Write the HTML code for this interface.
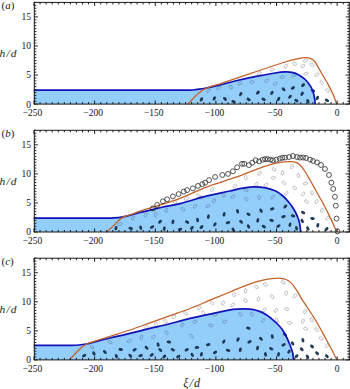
<!DOCTYPE html><html><head><meta charset="utf-8"><style>html,body{margin:0;padding:0;background:#fff;width:350px;height:389px;overflow:hidden}svg{display:block}text{font-family:"Liberation Serif",serif}</style></head><body>
<svg width="350" height="389" viewBox="0 0 350 389">
<rect width="350" height="389" fill="#fff"/>
<path d="M33.70,90.20 C84.47,90.20 135.23,90.26 186.00,90.20 C188.33,90.20 190.67,90.17 193.00,90.00 C195.14,89.84 197.27,89.52 199.40,89.20 C201.71,88.85 204.01,88.44 206.30,88.00 C208.54,87.57 210.77,87.09 213.00,86.60 C215.34,86.09 217.68,85.59 220.00,85.00 C225.01,83.72 229.97,82.21 235.00,81.00 C241.64,79.41 248.31,77.94 255.00,76.60 C261.64,75.27 268.31,74.05 275.00,73.00 C278.35,72.48 281.72,72.04 285.10,71.90 C287.40,71.81 289.75,71.81 292.00,72.30 C294.40,72.82 296.76,73.70 298.90,74.90 C301.37,76.29 303.70,78.00 305.70,80.00 C307.74,82.04 309.42,84.43 310.90,86.90 C312.01,88.76 312.77,90.83 313.40,92.90 C314.07,95.11 314.46,97.41 314.80,99.70 C315.02,101.19 315.00,102.70 315.10,104.20 L315.10,104.10 L34.00,104.10 Z" fill="#93cdf9"/>
<ellipse cx="201.4" cy="99.4" rx="2.3" ry="1.45" transform="rotate(-60 201.4 99.4)" fill="#1f3a56"/>
<ellipse cx="214.3" cy="98.4" rx="2.3" ry="1.45" transform="rotate(-60 214.3 98.4)" fill="#1f3a56"/>
<ellipse cx="225.0" cy="98.9" rx="2.3" ry="1.45" transform="rotate(45 225.0 98.9)" fill="#1f3a56"/>
<ellipse cx="233.6" cy="101.7" rx="2.3" ry="1.45" transform="rotate(20 233.6 101.7)" fill="#1f3a56"/>
<ellipse cx="240.7" cy="94.1" rx="2.3" ry="1.45" transform="rotate(-60 240.7 94.1)" fill="#1f3a56"/>
<ellipse cx="248.6" cy="99.4" rx="2.3" ry="1.45" transform="rotate(30 248.6 99.4)" fill="#1f3a56"/>
<ellipse cx="257.9" cy="92.6" rx="2.3" ry="1.45" transform="rotate(-45 257.9 92.6)" fill="#1f3a56"/>
<ellipse cx="271.9" cy="92.9" rx="2.3" ry="1.45" transform="rotate(-60 271.9 92.9)" fill="#1f3a56"/>
<ellipse cx="283.6" cy="89.3" rx="2.3" ry="1.45" transform="rotate(45 283.6 89.3)" fill="#1f3a56"/>
<ellipse cx="292.9" cy="87.9" rx="2.3" ry="1.45" transform="rotate(-30 292.9 87.9)" fill="#1f3a56"/>
<ellipse cx="263.6" cy="99.3" rx="2.3" ry="1.45" transform="rotate(30 263.6 99.3)" fill="#1f3a56"/>
<ellipse cx="278.6" cy="99.0" rx="2.3" ry="1.45" transform="rotate(-60 278.6 99.0)" fill="#1f3a56"/>
<ellipse cx="290.0" cy="96.7" rx="2.3" ry="1.45" transform="rotate(-45 290.0 96.7)" fill="#1f3a56"/>
<ellipse cx="303.1" cy="85.1" rx="2.3" ry="1.45" transform="rotate(-45 303.1 85.1)" fill="#1f3a56"/>
<ellipse cx="302.1" cy="93.7" rx="2.3" ry="1.45" transform="rotate(-60 302.1 93.7)" fill="#1f3a56"/>
<ellipse cx="296.4" cy="100.6" rx="2.3" ry="1.45" transform="rotate(30 296.4 100.6)" fill="#1f3a56"/>
<ellipse cx="307.9" cy="101.3" rx="2.3" ry="1.45" transform="rotate(60 307.9 101.3)" fill="#1f3a56"/>
<ellipse cx="312.9" cy="90.6" rx="2.3" ry="1.45" transform="rotate(20 312.9 90.6)" fill="#1f3a56"/>
<ellipse cx="317.4" cy="98.0" rx="2.3" ry="1.45" transform="rotate(-60 317.4 98.0)" fill="#1f3a56"/>
<ellipse cx="326.9" cy="100.3" rx="2.3" ry="1.45" transform="rotate(30 326.9 100.3)" fill="#1f3a56"/>
<ellipse cx="208.6" cy="90.6" rx="2.25" ry="1.3" transform="rotate(-45 208.6 90.6)" fill="none" stroke="#6a8fb3" stroke-width="0.7"/>
<ellipse cx="218.6" cy="88.0" rx="2.25" ry="1.3" transform="rotate(-30 218.6 88.0)" fill="none" stroke="#6a8fb3" stroke-width="0.7"/>
<ellipse cx="230.7" cy="87.0" rx="2.25" ry="1.3" transform="rotate(60 230.7 87.0)" fill="none" stroke="#6a8fb3" stroke-width="0.7"/>
<ellipse cx="240.0" cy="83.4" rx="2.25" ry="1.3" transform="rotate(-30 240.0 83.4)" fill="none" stroke="#6a8fb3" stroke-width="0.7"/>
<ellipse cx="251.9" cy="82.1" rx="2.25" ry="1.3" transform="rotate(-15 251.9 82.1)" fill="none" stroke="#6a8fb3" stroke-width="0.7"/>
<ellipse cx="266.7" cy="80.7" rx="2.25" ry="1.3" transform="rotate(-45 266.7 80.7)" fill="none" stroke="#6a8fb3" stroke-width="0.7"/>
<ellipse cx="275.3" cy="83.6" rx="2.25" ry="1.3" transform="rotate(-30 275.3 83.6)" fill="none" stroke="#6a8fb3" stroke-width="0.7"/>
<ellipse cx="282.4" cy="77.1" rx="2.25" ry="1.3" transform="rotate(-15 282.4 77.1)" fill="none" stroke="#6a8fb3" stroke-width="0.7"/>
<ellipse cx="293.6" cy="75.7" rx="2.25" ry="1.3" transform="rotate(-20 293.6 75.7)" fill="none" stroke="#6a8fb3" stroke-width="0.7"/>
<ellipse cx="259.3" cy="73.3" rx="2.25" ry="1.3" transform="rotate(-30 259.3 73.3)" fill="none" stroke="#a4a4ae" stroke-width="0.65"/>
<ellipse cx="272.1" cy="69.7" rx="2.25" ry="1.3" transform="rotate(-20 272.1 69.7)" fill="none" stroke="#a4a4ae" stroke-width="0.65"/>
<ellipse cx="285.7" cy="66.1" rx="2.25" ry="1.3" transform="rotate(-60 285.7 66.1)" fill="none" stroke="#a4a4ae" stroke-width="0.65"/>
<ellipse cx="294.5" cy="63.8" rx="2.25" ry="1.3" transform="rotate(30 294.5 63.8)" fill="none" stroke="#a4a4ae" stroke-width="0.65"/>
<ellipse cx="302.9" cy="66.0" rx="2.25" ry="1.3" transform="rotate(-30 302.9 66.0)" fill="none" stroke="#a4a4ae" stroke-width="0.65"/>
<ellipse cx="305.4" cy="60.6" rx="2.25" ry="1.3" transform="rotate(-20 305.4 60.6)" fill="none" stroke="#a4a4ae" stroke-width="0.65"/>
<ellipse cx="312.1" cy="64.9" rx="2.25" ry="1.3" transform="rotate(45 312.1 64.9)" fill="none" stroke="#a4a4ae" stroke-width="0.65"/>
<ellipse cx="306.0" cy="73.7" rx="2.25" ry="1.3" transform="rotate(-15 306.0 73.7)" fill="none" stroke="#a4a4ae" stroke-width="0.65"/>
<ellipse cx="316.9" cy="74.6" rx="2.25" ry="1.3" transform="rotate(-30 316.9 74.6)" fill="none" stroke="#a4a4ae" stroke-width="0.65"/>
<ellipse cx="321.7" cy="82.7" rx="2.25" ry="1.3" transform="rotate(45 321.7 82.7)" fill="none" stroke="#a4a4ae" stroke-width="0.65"/>
<ellipse cx="327.4" cy="90.6" rx="2.25" ry="1.3" transform="rotate(45 327.4 90.6)" fill="none" stroke="#a4a4ae" stroke-width="0.65"/>
<path d="M33.70,90.20 C84.47,90.20 135.23,90.26 186.00,90.20 C188.33,90.20 190.67,90.17 193.00,90.00 C195.14,89.84 197.27,89.52 199.40,89.20 C201.71,88.85 204.01,88.44 206.30,88.00 C208.54,87.57 210.77,87.09 213.00,86.60 C215.34,86.09 217.68,85.59 220.00,85.00 C225.01,83.72 229.97,82.21 235.00,81.00 C241.64,79.41 248.31,77.94 255.00,76.60 C261.64,75.27 268.31,74.05 275.00,73.00 C278.35,72.48 281.72,72.04 285.10,71.90 C287.40,71.81 289.75,71.81 292.00,72.30 C294.40,72.82 296.76,73.70 298.90,74.90 C301.37,76.29 303.70,78.00 305.70,80.00 C307.74,82.04 309.42,84.43 310.90,86.90 C312.01,88.76 312.77,90.83 313.40,92.90 C314.07,95.11 314.46,97.41 314.80,99.70 C315.02,101.19 315.00,102.70 315.10,104.20" fill="none" stroke="#1212b8" stroke-width="1.7"/>
<path d="M187.80,104.20 C189.20,102.73 190.60,101.27 192.00,99.80 C193.33,98.40 194.61,96.94 196.00,95.60 C197.34,94.31 198.73,93.04 200.20,91.90 C201.40,90.97 202.65,90.10 204.00,89.40 C205.83,88.45 207.75,87.68 209.70,87.00 C213.09,85.81 216.59,84.93 220.00,83.80 C241.69,76.60 263.25,69.02 285.00,62.00 C288.96,60.72 293.02,59.75 297.10,58.90 C299.93,58.31 302.81,57.76 305.70,57.70 C307.46,57.66 309.26,57.96 310.90,58.60 C312.30,59.15 313.60,60.07 314.60,61.20 C315.89,62.66 316.62,64.52 317.60,66.20 C319.46,69.39 321.26,72.60 323.10,75.80 C324.79,78.74 326.59,81.62 328.20,84.60 C329.79,87.55 331.35,90.53 332.70,93.60 C334.22,97.07 335.43,100.67 336.80,104.20" fill="none" stroke="#c4602a" stroke-width="1.3"/>
<rect x="34.30" y="2.40" width="315.00" height="101.70" fill="none" stroke="#1a1a1a" stroke-width="1.0"/>
<path d="M34.00,104.10v-3.50M34.00,2.40v3.50M40.06,104.10v-2.00M40.06,2.40v2.00M46.13,104.10v-2.00M46.13,2.40v2.00M52.19,104.10v-2.00M52.19,2.40v2.00M58.25,104.10v-2.00M58.25,2.40v2.00M64.32,104.10v-2.00M64.32,2.40v2.00M70.38,104.10v-2.00M70.38,2.40v2.00M76.44,104.10v-2.00M76.44,2.40v2.00M82.51,104.10v-2.00M82.51,2.40v2.00M88.57,104.10v-2.00M88.57,2.40v2.00M94.63,104.10v-3.50M94.63,2.40v3.50M100.70,104.10v-2.00M100.70,2.40v2.00M106.76,104.10v-2.00M106.76,2.40v2.00M112.83,104.10v-2.00M112.83,2.40v2.00M118.89,104.10v-2.00M118.89,2.40v2.00M124.95,104.10v-2.00M124.95,2.40v2.00M131.02,104.10v-2.00M131.02,2.40v2.00M137.08,104.10v-2.00M137.08,2.40v2.00M143.14,104.10v-2.00M143.14,2.40v2.00M149.21,104.10v-2.00M149.21,2.40v2.00M155.27,104.10v-3.50M155.27,2.40v3.50M161.33,104.10v-2.00M161.33,2.40v2.00M167.40,104.10v-2.00M167.40,2.40v2.00M173.46,104.10v-2.00M173.46,2.40v2.00M179.52,104.10v-2.00M179.52,2.40v2.00M185.59,104.10v-2.00M185.59,2.40v2.00M191.65,104.10v-2.00M191.65,2.40v2.00M197.71,104.10v-2.00M197.71,2.40v2.00M203.78,104.10v-2.00M203.78,2.40v2.00M209.84,104.10v-2.00M209.84,2.40v2.00M215.90,104.10v-3.50M215.90,2.40v3.50M221.97,104.10v-2.00M221.97,2.40v2.00M228.03,104.10v-2.00M228.03,2.40v2.00M234.09,104.10v-2.00M234.09,2.40v2.00M240.16,104.10v-2.00M240.16,2.40v2.00M246.22,104.10v-2.00M246.22,2.40v2.00M252.28,104.10v-2.00M252.28,2.40v2.00M258.35,104.10v-2.00M258.35,2.40v2.00M264.41,104.10v-2.00M264.41,2.40v2.00M270.48,104.10v-2.00M270.48,2.40v2.00M276.54,104.10v-3.50M276.54,2.40v3.50M282.60,104.10v-2.00M282.60,2.40v2.00M288.67,104.10v-2.00M288.67,2.40v2.00M294.73,104.10v-2.00M294.73,2.40v2.00M300.79,104.10v-2.00M300.79,2.40v2.00M306.86,104.10v-2.00M306.86,2.40v2.00M312.92,104.10v-2.00M312.92,2.40v2.00M318.98,104.10v-2.00M318.98,2.40v2.00M325.05,104.10v-2.00M325.05,2.40v2.00M331.11,104.10v-2.00M331.11,2.40v2.00M337.17,104.10v-3.50M337.17,2.40v3.50M343.24,104.10v-2.00M343.24,2.40v2.00M349.30,104.10v-2.00M349.30,2.40v2.00M34.30,104.10h3.50M349.30,104.10h-3.50M34.30,101.19h2.00M349.30,101.19h-2.00M34.30,98.29h2.00M349.30,98.29h-2.00M34.30,95.38h2.00M349.30,95.38h-2.00M34.30,92.48h2.00M349.30,92.48h-2.00M34.30,89.57h2.00M349.30,89.57h-2.00M34.30,86.67h2.00M349.30,86.67h-2.00M34.30,83.76h2.00M349.30,83.76h-2.00M34.30,80.85h2.00M349.30,80.85h-2.00M34.30,77.95h2.00M349.30,77.95h-2.00M34.30,75.04h3.50M349.30,75.04h-3.50M34.30,72.14h2.00M349.30,72.14h-2.00M34.30,69.23h2.00M349.30,69.23h-2.00M34.30,66.33h2.00M349.30,66.33h-2.00M34.30,63.42h2.00M349.30,63.42h-2.00M34.30,60.51h2.00M349.30,60.51h-2.00M34.30,57.61h2.00M349.30,57.61h-2.00M34.30,54.70h2.00M349.30,54.70h-2.00M34.30,51.80h2.00M349.30,51.80h-2.00M34.30,48.89h2.00M349.30,48.89h-2.00M34.30,45.99h3.50M349.30,45.99h-3.50M34.30,43.08h2.00M349.30,43.08h-2.00M34.30,40.17h2.00M349.30,40.17h-2.00M34.30,37.27h2.00M349.30,37.27h-2.00M34.30,34.36h2.00M349.30,34.36h-2.00M34.30,31.46h2.00M349.30,31.46h-2.00M34.30,28.55h2.00M349.30,28.55h-2.00M34.30,25.65h2.00M349.30,25.65h-2.00M34.30,22.74h2.00M349.30,22.74h-2.00M34.30,19.83h2.00M349.30,19.83h-2.00M34.30,16.93h3.50M349.30,16.93h-3.50M34.30,14.02h2.00M349.30,14.02h-2.00M34.30,11.12h2.00M349.30,11.12h-2.00M34.30,8.21h2.00M349.30,8.21h-2.00M34.30,5.31h2.00M349.30,5.31h-2.00M34.30,2.40h2.00M349.30,2.40h-2.00" stroke="#1a1a1a" stroke-width="1.0" fill="none"/>
<text x="32.50" y="116.30" font-size="9.5" text-anchor="middle" fill="#111">−250</text>
<text x="93.13" y="116.30" font-size="9.5" text-anchor="middle" fill="#111">−200</text>
<text x="153.77" y="116.30" font-size="9.5" text-anchor="middle" fill="#111">−150</text>
<text x="214.40" y="116.30" font-size="9.5" text-anchor="middle" fill="#111">−100</text>
<text x="275.04" y="116.30" font-size="9.5" text-anchor="middle" fill="#111">−50</text>
<text x="337.17" y="116.30" font-size="9.5" text-anchor="middle" fill="#111">0</text>
<text x="31.00" y="107.50" font-size="9.5" text-anchor="end" fill="#111">0</text>
<text x="31.00" y="78.44" font-size="9.5" text-anchor="end" fill="#111">5</text>
<text x="31.00" y="49.39" font-size="9.5" text-anchor="end" fill="#111">10</text>
<text x="31.00" y="20.33" font-size="9.5" text-anchor="end" fill="#111">15</text>
<text x="-0.6" y="57.19" font-size="11.4" font-style="italic" fill="#1a1a1a">h<tspan dx="1.4">/</tspan><tspan dx="1.1">d</tspan></text>
<text x="1.5" y="8.80" font-size="11" fill="#222">(<tspan font-style="italic">a</tspan>)</text>
<path d="M33.70,218.10 C57.80,218.10 81.90,218.16 106.00,218.10 C108.67,218.09 111.34,218.10 114.00,217.90 C116.98,217.67 119.95,217.30 122.90,216.80 C125.29,216.40 127.65,215.79 130.00,215.20 C133.35,214.36 136.65,213.33 140.00,212.50 C143.78,211.56 147.61,210.81 151.40,209.90 C155.24,208.98 159.04,207.85 162.90,207.00 C168.58,205.75 174.36,205.02 180.00,203.60 C189.11,201.31 197.99,198.19 207.10,195.90 C214.67,193.99 222.38,192.69 230.00,191.00 C233.81,190.16 237.56,188.99 241.40,188.30 C245.20,187.62 249.04,187.02 252.90,186.90 C256.71,186.78 260.55,186.93 264.30,187.60 C268.20,188.30 272.10,189.33 275.70,191.00 C278.59,192.34 281.09,194.42 283.50,196.50 C285.55,198.27 287.25,200.43 289.00,202.50 C290.22,203.93 291.36,205.43 292.40,207.00 C293.57,208.77 294.64,210.61 295.60,212.50 C296.55,214.38 297.40,216.31 298.10,218.30 C298.81,220.32 299.41,222.39 299.80,224.50 C300.28,227.04 300.40,229.63 300.70,232.20 L300.70,232.00 L34.00,232.00 Z" fill="#93cdf9"/>
<ellipse cx="116.0" cy="228.1" rx="2.3" ry="1.45" transform="rotate(-75 116.0 228.1)" fill="#1f3a56"/>
<ellipse cx="130.7" cy="228.4" rx="2.3" ry="1.45" transform="rotate(15 130.7 228.4)" fill="#1f3a56"/>
<ellipse cx="140.7" cy="227.7" rx="2.3" ry="1.45" transform="rotate(75 140.7 227.7)" fill="#1f3a56"/>
<ellipse cx="152.1" cy="227.0" rx="2.3" ry="1.45" transform="rotate(-30 152.1 227.0)" fill="#1f3a56"/>
<ellipse cx="160.0" cy="221.7" rx="2.3" ry="1.45" transform="rotate(-45 160.0 221.7)" fill="#1f3a56"/>
<ellipse cx="164.3" cy="228.6" rx="2.3" ry="1.45" transform="rotate(-75 164.3 228.6)" fill="#1f3a56"/>
<ellipse cx="172.9" cy="221.9" rx="2.3" ry="1.45" transform="rotate(-75 172.9 221.9)" fill="#1f3a56"/>
<ellipse cx="180.0" cy="229.3" rx="2.3" ry="1.45" transform="rotate(-15 180.0 229.3)" fill="#1f3a56"/>
<ellipse cx="187.1" cy="222.1" rx="2.3" ry="1.45" transform="rotate(30 187.1 222.1)" fill="#1f3a56"/>
<ellipse cx="191.9" cy="227.9" rx="2.3" ry="1.45" transform="rotate(-45 191.9 227.9)" fill="#1f3a56"/>
<ellipse cx="197.6" cy="220.0" rx="2.3" ry="1.45" transform="rotate(75 197.6 220.0)" fill="#1f3a56"/>
<ellipse cx="201.5" cy="227.1" rx="2.3" ry="1.45" transform="rotate(-45 201.5 227.1)" fill="#1f3a56"/>
<ellipse cx="208.4" cy="216.6" rx="2.3" ry="1.45" transform="rotate(-75 208.4 216.6)" fill="#1f3a56"/>
<ellipse cx="214.9" cy="224.4" rx="2.3" ry="1.45" transform="rotate(-60 214.9 224.4)" fill="#1f3a56"/>
<ellipse cx="224.1" cy="214.3" rx="2.3" ry="1.45" transform="rotate(-75 224.1 214.3)" fill="#1f3a56"/>
<ellipse cx="228.0" cy="222.7" rx="2.3" ry="1.45" transform="rotate(-15 228.0 222.7)" fill="#1f3a56"/>
<ellipse cx="233.2" cy="229.7" rx="2.3" ry="1.45" transform="rotate(60 233.2 229.7)" fill="#1f3a56"/>
<ellipse cx="237.6" cy="211.3" rx="2.3" ry="1.45" transform="rotate(75 237.6 211.3)" fill="#1f3a56"/>
<ellipse cx="241.1" cy="221.8" rx="2.3" ry="1.45" transform="rotate(45 241.1 221.8)" fill="#1f3a56"/>
<ellipse cx="248.5" cy="214.2" rx="2.3" ry="1.45" transform="rotate(30 248.5 214.2)" fill="#1f3a56"/>
<ellipse cx="248.5" cy="226.5" rx="2.3" ry="1.45" transform="rotate(60 248.5 226.5)" fill="#1f3a56"/>
<ellipse cx="257.8" cy="220.4" rx="2.3" ry="1.45" transform="rotate(-75 257.8 220.4)" fill="#1f3a56"/>
<ellipse cx="261.0" cy="210.7" rx="2.3" ry="1.45" transform="rotate(60 261.0 210.7)" fill="#1f3a56"/>
<ellipse cx="263.8" cy="226.6" rx="2.3" ry="1.45" transform="rotate(30 263.8 226.6)" fill="#1f3a56"/>
<ellipse cx="271.6" cy="220.4" rx="2.3" ry="1.45" transform="rotate(15 271.6 220.4)" fill="#1f3a56"/>
<ellipse cx="272.2" cy="208.8" rx="2.3" ry="1.45" transform="rotate(-15 272.2 208.8)" fill="#1f3a56"/>
<ellipse cx="278.4" cy="226.0" rx="2.3" ry="1.45" transform="rotate(-30 278.4 226.0)" fill="#1f3a56"/>
<ellipse cx="283.5" cy="216.7" rx="2.3" ry="1.45" transform="rotate(-15 283.5 216.7)" fill="#1f3a56"/>
<ellipse cx="285.3" cy="206.5" rx="2.3" ry="1.45" transform="rotate(-45 285.3 206.5)" fill="#1f3a56"/>
<ellipse cx="290.0" cy="224.7" rx="2.3" ry="1.45" transform="rotate(-75 290.0 224.7)" fill="#1f3a56"/>
<ellipse cx="293.0" cy="215.9" rx="2.3" ry="1.45" transform="rotate(15 293.0 215.9)" fill="#1f3a56"/>
<ellipse cx="296.5" cy="228.2" rx="2.3" ry="1.45" transform="rotate(75 296.5 228.2)" fill="#1f3a56"/>
<ellipse cx="302.2" cy="221.0" rx="2.3" ry="1.45" transform="rotate(60 302.2 221.0)" fill="#1f3a56"/>
<ellipse cx="303.1" cy="212.5" rx="2.3" ry="1.45" transform="rotate(30 303.1 212.5)" fill="#1f3a56"/>
<ellipse cx="307.8" cy="228.5" rx="2.3" ry="1.45" transform="rotate(60 307.8 228.5)" fill="#1f3a56"/>
<ellipse cx="312.5" cy="218.5" rx="2.3" ry="1.45" transform="rotate(15 312.5 218.5)" fill="#1f3a56"/>
<ellipse cx="317.8" cy="225.3" rx="2.3" ry="1.45" transform="rotate(-75 317.8 225.3)" fill="#1f3a56"/>
<ellipse cx="326.6" cy="229.0" rx="2.3" ry="1.45" transform="rotate(-45 326.6 229.0)" fill="#1f3a56"/>
<ellipse cx="120.0" cy="224.1" rx="2.25" ry="1.3" transform="rotate(-15 120.0 224.1)" fill="none" stroke="#6a8fb3" stroke-width="0.7"/>
<ellipse cx="132.9" cy="218.1" rx="2.25" ry="1.3" transform="rotate(-75 132.9 218.1)" fill="none" stroke="#6a8fb3" stroke-width="0.7"/>
<ellipse cx="145.7" cy="214.9" rx="2.25" ry="1.3" transform="rotate(-60 145.7 214.9)" fill="none" stroke="#6a8fb3" stroke-width="0.7"/>
<ellipse cx="155.7" cy="214.6" rx="2.25" ry="1.3" transform="rotate(-75 155.7 214.6)" fill="none" stroke="#6a8fb3" stroke-width="0.7"/>
<ellipse cx="166.4" cy="210.3" rx="2.25" ry="1.3" transform="rotate(-75 166.4 210.3)" fill="none" stroke="#6a8fb3" stroke-width="0.7"/>
<ellipse cx="182.9" cy="209.3" rx="2.25" ry="1.3" transform="rotate(45 182.9 209.3)" fill="none" stroke="#6a8fb3" stroke-width="0.7"/>
<ellipse cx="195.0" cy="206.4" rx="2.25" ry="1.3" transform="rotate(-60 195.0 206.4)" fill="none" stroke="#6a8fb3" stroke-width="0.7"/>
<ellipse cx="200.9" cy="197.5" rx="2.25" ry="1.3" transform="rotate(-15 200.9 197.5)" fill="none" stroke="#6a8fb3" stroke-width="0.7"/>
<ellipse cx="214.0" cy="200.8" rx="2.25" ry="1.3" transform="rotate(-60 214.0 200.8)" fill="none" stroke="#6a8fb3" stroke-width="0.7"/>
<ellipse cx="223.6" cy="195.1" rx="2.25" ry="1.3" transform="rotate(75 223.6 195.1)" fill="none" stroke="#6a8fb3" stroke-width="0.7"/>
<ellipse cx="232.9" cy="196.8" rx="2.25" ry="1.3" transform="rotate(-30 232.9 196.8)" fill="none" stroke="#6a8fb3" stroke-width="0.7"/>
<ellipse cx="245.8" cy="190.3" rx="2.25" ry="1.3" transform="rotate(15 245.8 190.3)" fill="none" stroke="#6a8fb3" stroke-width="0.7"/>
<ellipse cx="246.3" cy="199.1" rx="2.25" ry="1.3" transform="rotate(45 246.3 199.1)" fill="none" stroke="#6a8fb3" stroke-width="0.7"/>
<ellipse cx="207.9" cy="206.1" rx="2.25" ry="1.3" transform="rotate(-30 207.9 206.1)" fill="none" stroke="#6a8fb3" stroke-width="0.7"/>
<ellipse cx="259.1" cy="197.5" rx="2.25" ry="1.3" transform="rotate(75 259.1 197.5)" fill="none" stroke="#6a8fb3" stroke-width="0.7"/>
<ellipse cx="272.8" cy="197.1" rx="2.25" ry="1.3" transform="rotate(-45 272.8 197.1)" fill="none" stroke="#6a8fb3" stroke-width="0.7"/>
<ellipse cx="175.0" cy="202.1" rx="2.25" ry="1.3" transform="rotate(30 175.0 202.1)" fill="none" stroke="#a4a4ae" stroke-width="0.65"/>
<ellipse cx="186.4" cy="198.6" rx="2.25" ry="1.3" transform="rotate(-30 186.4 198.6)" fill="none" stroke="#a4a4ae" stroke-width="0.65"/>
<ellipse cx="198.6" cy="195.7" rx="2.25" ry="1.3" transform="rotate(45 198.6 195.7)" fill="none" stroke="#a4a4ae" stroke-width="0.65"/>
<ellipse cx="212.2" cy="189.5" rx="2.25" ry="1.3" transform="rotate(-60 212.2 189.5)" fill="none" stroke="#a4a4ae" stroke-width="0.65"/>
<ellipse cx="235.0" cy="186.0" rx="2.25" ry="1.3" transform="rotate(-45 235.0 186.0)" fill="none" stroke="#a4a4ae" stroke-width="0.65"/>
<ellipse cx="245.8" cy="177.6" rx="2.25" ry="1.3" transform="rotate(75 245.8 177.6)" fill="none" stroke="#a4a4ae" stroke-width="0.65"/>
<ellipse cx="259.6" cy="173.5" rx="2.25" ry="1.3" transform="rotate(-45 259.6 173.5)" fill="none" stroke="#a4a4ae" stroke-width="0.65"/>
<ellipse cx="274.1" cy="169.4" rx="2.25" ry="1.3" transform="rotate(30 274.1 169.4)" fill="none" stroke="#a4a4ae" stroke-width="0.65"/>
<ellipse cx="282.5" cy="172.8" rx="2.25" ry="1.3" transform="rotate(-75 282.5 172.8)" fill="none" stroke="#a4a4ae" stroke-width="0.65"/>
<ellipse cx="291.9" cy="166.6" rx="2.25" ry="1.3" transform="rotate(-60 291.9 166.6)" fill="none" stroke="#a4a4ae" stroke-width="0.65"/>
<ellipse cx="298.4" cy="175.4" rx="2.25" ry="1.3" transform="rotate(75 298.4 175.4)" fill="none" stroke="#a4a4ae" stroke-width="0.65"/>
<ellipse cx="273.5" cy="177.8" rx="2.25" ry="1.3" transform="rotate(-15 273.5 177.8)" fill="none" stroke="#a4a4ae" stroke-width="0.65"/>
<ellipse cx="256.3" cy="184.4" rx="2.25" ry="1.3" transform="rotate(-60 256.3 184.4)" fill="none" stroke="#a4a4ae" stroke-width="0.65"/>
<ellipse cx="266.0" cy="184.8" rx="2.25" ry="1.3" transform="rotate(-45 266.0 184.8)" fill="none" stroke="#a4a4ae" stroke-width="0.65"/>
<ellipse cx="284.0" cy="182.9" rx="2.25" ry="1.3" transform="rotate(45 284.0 182.9)" fill="none" stroke="#a4a4ae" stroke-width="0.65"/>
<ellipse cx="294.7" cy="187.8" rx="2.25" ry="1.3" transform="rotate(45 294.7 187.8)" fill="none" stroke="#a4a4ae" stroke-width="0.65"/>
<ellipse cx="286.3" cy="193.4" rx="2.25" ry="1.3" transform="rotate(-45 286.3 193.4)" fill="none" stroke="#a4a4ae" stroke-width="0.65"/>
<ellipse cx="305.4" cy="183.5" rx="2.25" ry="1.3" transform="rotate(-15 305.4 183.5)" fill="none" stroke="#a4a4ae" stroke-width="0.65"/>
<ellipse cx="303.1" cy="194.1" rx="2.25" ry="1.3" transform="rotate(-45 303.1 194.1)" fill="none" stroke="#a4a4ae" stroke-width="0.65"/>
<ellipse cx="312.1" cy="192.8" rx="2.25" ry="1.3" transform="rotate(75 312.1 192.8)" fill="none" stroke="#a4a4ae" stroke-width="0.65"/>
<ellipse cx="306.5" cy="201.6" rx="2.25" ry="1.3" transform="rotate(45 306.5 201.6)" fill="none" stroke="#a4a4ae" stroke-width="0.65"/>
<ellipse cx="316.6" cy="201.6" rx="2.25" ry="1.3" transform="rotate(-60 316.6 201.6)" fill="none" stroke="#a4a4ae" stroke-width="0.65"/>
<ellipse cx="321.9" cy="210.3" rx="2.25" ry="1.3" transform="rotate(-75 321.9 210.3)" fill="none" stroke="#a4a4ae" stroke-width="0.65"/>
<ellipse cx="327.5" cy="218.2" rx="2.25" ry="1.3" transform="rotate(-45 327.5 218.2)" fill="none" stroke="#a4a4ae" stroke-width="0.65"/>
<path d="M33.70,218.10 C57.80,218.10 81.90,218.16 106.00,218.10 C108.67,218.09 111.34,218.10 114.00,217.90 C116.98,217.67 119.95,217.30 122.90,216.80 C125.29,216.40 127.65,215.79 130.00,215.20 C133.35,214.36 136.65,213.33 140.00,212.50 C143.78,211.56 147.61,210.81 151.40,209.90 C155.24,208.98 159.04,207.85 162.90,207.00 C168.58,205.75 174.36,205.02 180.00,203.60 C189.11,201.31 197.99,198.19 207.10,195.90 C214.67,193.99 222.38,192.69 230.00,191.00 C233.81,190.16 237.56,188.99 241.40,188.30 C245.20,187.62 249.04,187.02 252.90,186.90 C256.71,186.78 260.55,186.93 264.30,187.60 C268.20,188.30 272.10,189.33 275.70,191.00 C278.59,192.34 281.09,194.42 283.50,196.50 C285.55,198.27 287.25,200.43 289.00,202.50 C290.22,203.93 291.36,205.43 292.40,207.00 C293.57,208.77 294.64,210.61 295.60,212.50 C296.55,214.38 297.40,216.31 298.10,218.30 C298.81,220.32 299.41,222.39 299.80,224.50 C300.28,227.04 300.40,229.63 300.70,232.20" fill="none" stroke="#1212b8" stroke-width="1.7"/>
<path d="M106.00,232.20 C107.43,231.07 108.92,230.00 110.30,228.80 C111.69,227.59 112.99,226.29 114.30,225.00 C116.22,223.12 117.94,221.02 120.00,219.30 C121.39,218.14 122.94,217.13 124.60,216.40 C126.21,215.69 128.03,215.57 129.70,215.00 C133.17,213.81 136.53,212.28 140.00,211.10 C143.76,209.82 147.60,208.76 151.40,207.60 C155.23,206.43 159.09,205.33 162.90,204.10 C168.62,202.26 174.40,200.59 180.00,198.40 C189.15,194.82 197.91,190.28 207.10,186.80 C216.59,183.21 226.43,180.57 236.00,177.20 C241.76,175.17 247.36,172.71 253.10,170.60 C258.80,168.51 264.49,166.37 270.30,164.60 C273.47,163.63 276.72,162.90 280.00,162.40 C283.31,161.90 286.66,161.60 290.00,161.60 C292.02,161.60 294.09,161.75 296.00,162.40 C297.51,162.91 298.85,163.90 300.00,165.00 C301.55,166.47 302.82,168.22 304.00,170.00 C306.16,173.23 308.06,176.63 310.00,180.00 C311.96,183.40 313.79,186.87 315.70,190.30 C318.56,195.44 321.55,200.50 324.30,205.70 C326.68,210.21 328.92,214.79 331.10,219.40 C333.09,223.62 334.90,227.93 336.80,232.20" fill="none" stroke="#c4602a" stroke-width="1.3"/>
<circle cx="152.9" cy="208.4" r="2.45" fill="none" stroke="#2a2a2a" stroke-width="0.8"/>
<circle cx="157.1" cy="205.0" r="2.45" fill="none" stroke="#2a2a2a" stroke-width="0.8"/>
<circle cx="162.9" cy="201.3" r="2.45" fill="none" stroke="#2a2a2a" stroke-width="0.8"/>
<circle cx="167.1" cy="199.3" r="2.45" fill="none" stroke="#2a2a2a" stroke-width="0.8"/>
<circle cx="172.9" cy="196.4" r="2.45" fill="none" stroke="#2a2a2a" stroke-width="0.8"/>
<circle cx="178.6" cy="194.1" r="2.45" fill="none" stroke="#2a2a2a" stroke-width="0.8"/>
<circle cx="183.7" cy="191.6" r="2.45" fill="none" stroke="#2a2a2a" stroke-width="0.8"/>
<circle cx="187.1" cy="190.1" r="2.45" fill="none" stroke="#2a2a2a" stroke-width="0.8"/>
<circle cx="192.9" cy="188.4" r="2.45" fill="none" stroke="#2a2a2a" stroke-width="0.8"/>
<circle cx="198.0" cy="185.9" r="2.45" fill="none" stroke="#2a2a2a" stroke-width="0.8"/>
<circle cx="202.3" cy="184.1" r="2.45" fill="none" stroke="#2a2a2a" stroke-width="0.8"/>
<circle cx="205.1" cy="182.7" r="2.45" fill="none" stroke="#2a2a2a" stroke-width="0.8"/>
<circle cx="209.1" cy="180.1" r="2.45" fill="none" stroke="#2a2a2a" stroke-width="0.8"/>
<circle cx="215.1" cy="177.0" r="2.45" fill="none" stroke="#2a2a2a" stroke-width="0.8"/>
<circle cx="222.3" cy="175.0" r="2.45" fill="none" stroke="#2a2a2a" stroke-width="0.8"/>
<circle cx="228.0" cy="173.9" r="2.45" fill="none" stroke="#2a2a2a" stroke-width="0.8"/>
<circle cx="232.9" cy="171.3" r="2.45" fill="none" stroke="#2a2a2a" stroke-width="0.8"/>
<circle cx="237.1" cy="167.3" r="2.45" fill="none" stroke="#2a2a2a" stroke-width="0.8"/>
<circle cx="242.0" cy="163.8" r="2.45" fill="none" stroke="#2a2a2a" stroke-width="0.8"/>
<circle cx="244.2" cy="163.8" r="2.45" fill="none" stroke="#2a2a2a" stroke-width="0.8"/>
<circle cx="248.9" cy="165.1" r="2.45" fill="none" stroke="#2a2a2a" stroke-width="0.8"/>
<circle cx="252.3" cy="162.6" r="2.45" fill="none" stroke="#2a2a2a" stroke-width="0.8"/>
<circle cx="255.7" cy="160.3" r="2.45" fill="none" stroke="#2a2a2a" stroke-width="0.8"/>
<circle cx="259.1" cy="161.4" r="2.45" fill="none" stroke="#2a2a2a" stroke-width="0.8"/>
<circle cx="262.6" cy="159.7" r="2.45" fill="none" stroke="#2a2a2a" stroke-width="0.8"/>
<circle cx="265.1" cy="159.1" r="2.45" fill="none" stroke="#2a2a2a" stroke-width="0.8"/>
<circle cx="267.7" cy="159.1" r="2.45" fill="none" stroke="#2a2a2a" stroke-width="0.8"/>
<circle cx="270.3" cy="159.7" r="2.45" fill="none" stroke="#2a2a2a" stroke-width="0.8"/>
<circle cx="272.9" cy="160.3" r="2.45" fill="none" stroke="#2a2a2a" stroke-width="0.8"/>
<circle cx="276.3" cy="159.7" r="2.45" fill="none" stroke="#2a2a2a" stroke-width="0.8"/>
<circle cx="279.7" cy="158.6" r="2.45" fill="none" stroke="#2a2a2a" stroke-width="0.8"/>
<circle cx="282.3" cy="157.8" r="2.45" fill="none" stroke="#2a2a2a" stroke-width="0.8"/>
<circle cx="285.0" cy="157.6" r="2.45" fill="none" stroke="#2a2a2a" stroke-width="0.8"/>
<circle cx="289.0" cy="157.0" r="2.45" fill="none" stroke="#2a2a2a" stroke-width="0.8"/>
<circle cx="293.0" cy="156.0" r="2.45" fill="none" stroke="#2a2a2a" stroke-width="0.8"/>
<circle cx="297.0" cy="157.0" r="2.45" fill="none" stroke="#2a2a2a" stroke-width="0.8"/>
<circle cx="300.0" cy="157.6" r="2.45" fill="none" stroke="#2a2a2a" stroke-width="0.8"/>
<circle cx="303.0" cy="157.6" r="2.45" fill="none" stroke="#2a2a2a" stroke-width="0.8"/>
<circle cx="306.0" cy="158.0" r="2.45" fill="none" stroke="#2a2a2a" stroke-width="0.8"/>
<circle cx="310.0" cy="159.6" r="2.45" fill="none" stroke="#2a2a2a" stroke-width="0.8"/>
<circle cx="313.0" cy="161.0" r="2.45" fill="none" stroke="#2a2a2a" stroke-width="0.8"/>
<circle cx="317.0" cy="162.4" r="2.45" fill="none" stroke="#2a2a2a" stroke-width="0.8"/>
<circle cx="321.0" cy="165.0" r="2.45" fill="none" stroke="#2a2a2a" stroke-width="0.8"/>
<circle cx="325.0" cy="169.0" r="2.45" fill="none" stroke="#2a2a2a" stroke-width="0.8"/>
<circle cx="329.0" cy="175.0" r="2.45" fill="none" stroke="#2a2a2a" stroke-width="0.8"/>
<circle cx="331.4" cy="182.6" r="2.45" fill="none" stroke="#2a2a2a" stroke-width="0.8"/>
<circle cx="333.2" cy="188.9" r="2.45" fill="none" stroke="#2a2a2a" stroke-width="0.8"/>
<circle cx="334.9" cy="196.8" r="2.45" fill="none" stroke="#2a2a2a" stroke-width="0.8"/>
<circle cx="335.8" cy="205.7" r="2.45" fill="none" stroke="#2a2a2a" stroke-width="0.8"/>
<circle cx="336.6" cy="218.6" r="2.45" fill="none" stroke="#2a2a2a" stroke-width="0.8"/>
<circle cx="337.5" cy="231.4" r="2.45" fill="none" stroke="#2a2a2a" stroke-width="0.8"/>
<rect x="34.30" y="130.30" width="315.00" height="101.70" fill="none" stroke="#1a1a1a" stroke-width="1.0"/>
<path d="M34.00,232.00v-3.50M34.00,130.30v3.50M40.06,232.00v-2.00M40.06,130.30v2.00M46.13,232.00v-2.00M46.13,130.30v2.00M52.19,232.00v-2.00M52.19,130.30v2.00M58.25,232.00v-2.00M58.25,130.30v2.00M64.32,232.00v-2.00M64.32,130.30v2.00M70.38,232.00v-2.00M70.38,130.30v2.00M76.44,232.00v-2.00M76.44,130.30v2.00M82.51,232.00v-2.00M82.51,130.30v2.00M88.57,232.00v-2.00M88.57,130.30v2.00M94.63,232.00v-3.50M94.63,130.30v3.50M100.70,232.00v-2.00M100.70,130.30v2.00M106.76,232.00v-2.00M106.76,130.30v2.00M112.83,232.00v-2.00M112.83,130.30v2.00M118.89,232.00v-2.00M118.89,130.30v2.00M124.95,232.00v-2.00M124.95,130.30v2.00M131.02,232.00v-2.00M131.02,130.30v2.00M137.08,232.00v-2.00M137.08,130.30v2.00M143.14,232.00v-2.00M143.14,130.30v2.00M149.21,232.00v-2.00M149.21,130.30v2.00M155.27,232.00v-3.50M155.27,130.30v3.50M161.33,232.00v-2.00M161.33,130.30v2.00M167.40,232.00v-2.00M167.40,130.30v2.00M173.46,232.00v-2.00M173.46,130.30v2.00M179.52,232.00v-2.00M179.52,130.30v2.00M185.59,232.00v-2.00M185.59,130.30v2.00M191.65,232.00v-2.00M191.65,130.30v2.00M197.71,232.00v-2.00M197.71,130.30v2.00M203.78,232.00v-2.00M203.78,130.30v2.00M209.84,232.00v-2.00M209.84,130.30v2.00M215.90,232.00v-3.50M215.90,130.30v3.50M221.97,232.00v-2.00M221.97,130.30v2.00M228.03,232.00v-2.00M228.03,130.30v2.00M234.09,232.00v-2.00M234.09,130.30v2.00M240.16,232.00v-2.00M240.16,130.30v2.00M246.22,232.00v-2.00M246.22,130.30v2.00M252.28,232.00v-2.00M252.28,130.30v2.00M258.35,232.00v-2.00M258.35,130.30v2.00M264.41,232.00v-2.00M264.41,130.30v2.00M270.48,232.00v-2.00M270.48,130.30v2.00M276.54,232.00v-3.50M276.54,130.30v3.50M282.60,232.00v-2.00M282.60,130.30v2.00M288.67,232.00v-2.00M288.67,130.30v2.00M294.73,232.00v-2.00M294.73,130.30v2.00M300.79,232.00v-2.00M300.79,130.30v2.00M306.86,232.00v-2.00M306.86,130.30v2.00M312.92,232.00v-2.00M312.92,130.30v2.00M318.98,232.00v-2.00M318.98,130.30v2.00M325.05,232.00v-2.00M325.05,130.30v2.00M331.11,232.00v-2.00M331.11,130.30v2.00M337.17,232.00v-3.50M337.17,130.30v3.50M343.24,232.00v-2.00M343.24,130.30v2.00M349.30,232.00v-2.00M349.30,130.30v2.00M34.30,232.00h3.50M349.30,232.00h-3.50M34.30,229.09h2.00M349.30,229.09h-2.00M34.30,226.19h2.00M349.30,226.19h-2.00M34.30,223.28h2.00M349.30,223.28h-2.00M34.30,220.38h2.00M349.30,220.38h-2.00M34.30,217.47h2.00M349.30,217.47h-2.00M34.30,214.57h2.00M349.30,214.57h-2.00M34.30,211.66h2.00M349.30,211.66h-2.00M34.30,208.75h2.00M349.30,208.75h-2.00M34.30,205.85h2.00M349.30,205.85h-2.00M34.30,202.94h3.50M349.30,202.94h-3.50M34.30,200.04h2.00M349.30,200.04h-2.00M34.30,197.13h2.00M349.30,197.13h-2.00M34.30,194.23h2.00M349.30,194.23h-2.00M34.30,191.32h2.00M349.30,191.32h-2.00M34.30,188.41h2.00M349.30,188.41h-2.00M34.30,185.51h2.00M349.30,185.51h-2.00M34.30,182.60h2.00M349.30,182.60h-2.00M34.30,179.70h2.00M349.30,179.70h-2.00M34.30,176.79h2.00M349.30,176.79h-2.00M34.30,173.89h3.50M349.30,173.89h-3.50M34.30,170.98h2.00M349.30,170.98h-2.00M34.30,168.07h2.00M349.30,168.07h-2.00M34.30,165.17h2.00M349.30,165.17h-2.00M34.30,162.26h2.00M349.30,162.26h-2.00M34.30,159.36h2.00M349.30,159.36h-2.00M34.30,156.45h2.00M349.30,156.45h-2.00M34.30,153.55h2.00M349.30,153.55h-2.00M34.30,150.64h2.00M349.30,150.64h-2.00M34.30,147.73h2.00M349.30,147.73h-2.00M34.30,144.83h3.50M349.30,144.83h-3.50M34.30,141.92h2.00M349.30,141.92h-2.00M34.30,139.02h2.00M349.30,139.02h-2.00M34.30,136.11h2.00M349.30,136.11h-2.00M34.30,133.21h2.00M349.30,133.21h-2.00M34.30,130.30h2.00M349.30,130.30h-2.00" stroke="#1a1a1a" stroke-width="1.0" fill="none"/>
<text x="32.50" y="244.20" font-size="9.5" text-anchor="middle" fill="#111">−250</text>
<text x="93.13" y="244.20" font-size="9.5" text-anchor="middle" fill="#111">−200</text>
<text x="153.77" y="244.20" font-size="9.5" text-anchor="middle" fill="#111">−150</text>
<text x="214.40" y="244.20" font-size="9.5" text-anchor="middle" fill="#111">−100</text>
<text x="275.04" y="244.20" font-size="9.5" text-anchor="middle" fill="#111">−50</text>
<text x="337.17" y="244.20" font-size="9.5" text-anchor="middle" fill="#111">0</text>
<text x="31.00" y="235.40" font-size="9.5" text-anchor="end" fill="#111">0</text>
<text x="31.00" y="206.34" font-size="9.5" text-anchor="end" fill="#111">5</text>
<text x="31.00" y="177.29" font-size="9.5" text-anchor="end" fill="#111">10</text>
<text x="31.00" y="148.23" font-size="9.5" text-anchor="end" fill="#111">15</text>
<text x="-0.6" y="185.09" font-size="11.4" font-style="italic" fill="#1a1a1a">h<tspan dx="1.4">/</tspan><tspan dx="1.1">d</tspan></text>
<text x="1.5" y="136.70" font-size="11" fill="#222">(<tspan font-style="italic">b</tspan>)</text>
<path d="M33.70,345.30 C46.47,345.30 59.23,345.38 72.00,345.30 C74.34,345.28 76.67,345.21 79.00,345.00 C81.45,344.78 83.88,344.45 86.30,344.00 C88.22,343.64 90.11,343.10 92.00,342.60 C94.67,341.90 97.32,341.08 100.00,340.40 C103.32,339.55 106.66,338.78 110.00,338.00 C116.66,336.45 123.35,335.00 130.00,333.40 C136.68,331.80 143.32,330.01 150.00,328.40 C154.95,327.21 159.96,326.24 164.90,325.00 C173.29,322.90 181.59,320.43 190.00,318.40 C196.63,316.80 203.33,315.52 210.00,314.10 C216.66,312.68 223.30,311.12 230.00,309.90 C232.44,309.45 234.93,309.28 237.40,309.10 C239.86,308.92 242.33,308.77 244.80,308.80 C247.27,308.83 249.76,308.87 252.20,309.30 C254.73,309.74 257.22,310.45 259.60,311.40 C262.18,312.43 264.62,313.77 267.00,315.20 C268.30,315.98 269.44,317.02 270.60,318.00 C272.91,319.95 275.26,321.86 277.40,324.00 C279.27,325.87 281.08,327.83 282.60,330.00 C284.13,332.19 285.32,334.60 286.50,337.00 C287.79,339.61 288.93,342.29 290.00,345.00 C290.97,347.46 291.97,349.93 292.60,352.50 C293.18,354.89 293.27,357.37 293.60,359.80 L293.60,359.90 L34.00,359.90 Z" fill="#93cdf9"/>
<ellipse cx="84.2" cy="355.6" rx="2.3" ry="1.45" transform="rotate(-30 84.2 355.6)" fill="#1f3a56"/>
<ellipse cx="93.9" cy="353.5" rx="2.3" ry="1.45" transform="rotate(60 93.9 353.5)" fill="#1f3a56"/>
<ellipse cx="104.9" cy="352.0" rx="2.3" ry="1.45" transform="rotate(45 104.9 352.0)" fill="#1f3a56"/>
<ellipse cx="116.4" cy="356.2" rx="2.3" ry="1.45" transform="rotate(75 116.4 356.2)" fill="#1f3a56"/>
<ellipse cx="120.7" cy="349.5" rx="2.3" ry="1.45" transform="rotate(15 120.7 349.5)" fill="#1f3a56"/>
<ellipse cx="134.6" cy="349.7" rx="2.3" ry="1.45" transform="rotate(-30 134.6 349.7)" fill="#1f3a56"/>
<ellipse cx="146.6" cy="347.7" rx="2.3" ry="1.45" transform="rotate(45 146.6 347.7)" fill="#1f3a56"/>
<ellipse cx="158.1" cy="344.6" rx="2.3" ry="1.45" transform="rotate(75 158.1 344.6)" fill="#1f3a56"/>
<ellipse cx="168.9" cy="342.0" rx="2.3" ry="1.45" transform="rotate(15 168.9 342.0)" fill="#1f3a56"/>
<ellipse cx="160.3" cy="350.0" rx="2.3" ry="1.45" transform="rotate(45 160.3 350.0)" fill="#1f3a56"/>
<ellipse cx="172.8" cy="349.7" rx="2.3" ry="1.45" transform="rotate(30 172.8 349.7)" fill="#1f3a56"/>
<ellipse cx="130.3" cy="355.7" rx="2.3" ry="1.45" transform="rotate(45 130.3 355.7)" fill="#1f3a56"/>
<ellipse cx="140.6" cy="355.7" rx="2.3" ry="1.45" transform="rotate(-15 140.6 355.7)" fill="#1f3a56"/>
<ellipse cx="151.7" cy="354.9" rx="2.3" ry="1.45" transform="rotate(-30 151.7 354.9)" fill="#1f3a56"/>
<ellipse cx="164.3" cy="356.6" rx="2.3" ry="1.45" transform="rotate(-45 164.3 356.6)" fill="#1f3a56"/>
<ellipse cx="178.3" cy="356.6" rx="2.3" ry="1.45" transform="rotate(-30 178.3 356.6)" fill="#1f3a56"/>
<ellipse cx="186.7" cy="349.8" rx="2.3" ry="1.45" transform="rotate(-30 186.7 349.8)" fill="#1f3a56"/>
<ellipse cx="196.9" cy="347.5" rx="2.3" ry="1.45" transform="rotate(-15 196.9 347.5)" fill="#1f3a56"/>
<ellipse cx="208.2" cy="344.6" rx="2.3" ry="1.45" transform="rotate(-15 208.2 344.6)" fill="#1f3a56"/>
<ellipse cx="223.8" cy="341.6" rx="2.3" ry="1.45" transform="rotate(-60 223.8 341.6)" fill="#1f3a56"/>
<ellipse cx="192.2" cy="354.9" rx="2.3" ry="1.45" transform="rotate(60 192.2 354.9)" fill="#1f3a56"/>
<ellipse cx="201.4" cy="354.3" rx="2.3" ry="1.45" transform="rotate(-75 201.4 354.3)" fill="#1f3a56"/>
<ellipse cx="215.0" cy="352.4" rx="2.3" ry="1.45" transform="rotate(-30 215.0 352.4)" fill="#1f3a56"/>
<ellipse cx="228.1" cy="350.4" rx="2.3" ry="1.45" transform="rotate(15 228.1 350.4)" fill="#1f3a56"/>
<ellipse cx="248.3" cy="328.1" rx="2.3" ry="1.45" transform="rotate(15 248.3 328.1)" fill="#1f3a56"/>
<ellipse cx="238.0" cy="339.5" rx="2.3" ry="1.45" transform="rotate(-60 238.0 339.5)" fill="#1f3a56"/>
<ellipse cx="249.5" cy="341.8" rx="2.3" ry="1.45" transform="rotate(-30 249.5 341.8)" fill="#1f3a56"/>
<ellipse cx="260.9" cy="338.8" rx="2.3" ry="1.45" transform="rotate(45 260.9 338.8)" fill="#1f3a56"/>
<ellipse cx="272.3" cy="336.5" rx="2.3" ry="1.45" transform="rotate(75 272.3 336.5)" fill="#1f3a56"/>
<ellipse cx="284.9" cy="334.5" rx="2.3" ry="1.45" transform="rotate(30 284.9 334.5)" fill="#1f3a56"/>
<ellipse cx="240.3" cy="349.8" rx="2.3" ry="1.45" transform="rotate(-75 240.3 349.8)" fill="#1f3a56"/>
<ellipse cx="257.5" cy="348.0" rx="2.3" ry="1.45" transform="rotate(-75 257.5 348.0)" fill="#1f3a56"/>
<ellipse cx="271.2" cy="348.7" rx="2.3" ry="1.45" transform="rotate(30 271.2 348.7)" fill="#1f3a56"/>
<ellipse cx="283.6" cy="344.8" rx="2.3" ry="1.45" transform="rotate(-30 283.6 344.8)" fill="#1f3a56"/>
<ellipse cx="265.5" cy="354.4" rx="2.3" ry="1.45" transform="rotate(75 265.5 354.4)" fill="#1f3a56"/>
<ellipse cx="278.5" cy="354.4" rx="2.3" ry="1.45" transform="rotate(-75 278.5 354.4)" fill="#1f3a56"/>
<ellipse cx="289.0" cy="351.6" rx="2.3" ry="1.45" transform="rotate(-60 289.0 351.6)" fill="#1f3a56"/>
<ellipse cx="292.6" cy="343.4" rx="2.3" ry="1.45" transform="rotate(60 292.6 343.4)" fill="#1f3a56"/>
<ellipse cx="302.9" cy="340.2" rx="2.3" ry="1.45" transform="rotate(75 302.9 340.2)" fill="#1f3a56"/>
<ellipse cx="312.0" cy="346.4" rx="2.3" ry="1.45" transform="rotate(45 312.0 346.4)" fill="#1f3a56"/>
<ellipse cx="301.7" cy="349.3" rx="2.3" ry="1.45" transform="rotate(45 301.7 349.3)" fill="#1f3a56"/>
<ellipse cx="317.1" cy="353.2" rx="2.3" ry="1.45" transform="rotate(45 317.1 353.2)" fill="#1f3a56"/>
<ellipse cx="296.5" cy="356.2" rx="2.3" ry="1.45" transform="rotate(-45 296.5 356.2)" fill="#1f3a56"/>
<ellipse cx="307.5" cy="356.7" rx="2.3" ry="1.45" transform="rotate(60 307.5 356.7)" fill="#1f3a56"/>
<ellipse cx="326.9" cy="356.2" rx="2.3" ry="1.45" transform="rotate(45 326.9 356.2)" fill="#1f3a56"/>
<ellipse cx="92.0" cy="347.2" rx="2.25" ry="1.3" transform="rotate(60 92.0 347.2)" fill="none" stroke="#6a8fb3" stroke-width="0.7"/>
<ellipse cx="110.1" cy="342.2" rx="2.25" ry="1.3" transform="rotate(30 110.1 342.2)" fill="none" stroke="#6a8fb3" stroke-width="0.7"/>
<ellipse cx="129.4" cy="340.8" rx="2.25" ry="1.3" transform="rotate(-30 129.4 340.8)" fill="none" stroke="#6a8fb3" stroke-width="0.7"/>
<ellipse cx="141.4" cy="337.4" rx="2.25" ry="1.3" transform="rotate(-75 141.4 337.4)" fill="none" stroke="#6a8fb3" stroke-width="0.7"/>
<ellipse cx="153.4" cy="336.9" rx="2.25" ry="1.3" transform="rotate(-45 153.4 336.9)" fill="none" stroke="#6a8fb3" stroke-width="0.7"/>
<ellipse cx="166.6" cy="332.6" rx="2.25" ry="1.3" transform="rotate(60 166.6 332.6)" fill="none" stroke="#6a8fb3" stroke-width="0.7"/>
<ellipse cx="182.4" cy="325.0" rx="2.25" ry="1.3" transform="rotate(-60 182.4 325.0)" fill="none" stroke="#6a8fb3" stroke-width="0.7"/>
<ellipse cx="194.9" cy="321.7" rx="2.25" ry="1.3" transform="rotate(-15 194.9 321.7)" fill="none" stroke="#6a8fb3" stroke-width="0.7"/>
<ellipse cx="210.7" cy="325.4" rx="2.25" ry="1.3" transform="rotate(15 210.7 325.4)" fill="none" stroke="#6a8fb3" stroke-width="0.7"/>
<ellipse cx="224.8" cy="321.7" rx="2.25" ry="1.3" transform="rotate(-30 224.8 321.7)" fill="none" stroke="#6a8fb3" stroke-width="0.7"/>
<ellipse cx="215.0" cy="314.7" rx="2.25" ry="1.3" transform="rotate(-15 215.0 314.7)" fill="none" stroke="#6a8fb3" stroke-width="0.7"/>
<ellipse cx="191.6" cy="336.2" rx="2.25" ry="1.3" transform="rotate(45 191.6 336.2)" fill="none" stroke="#6a8fb3" stroke-width="0.7"/>
<ellipse cx="240.3" cy="314.3" rx="2.25" ry="1.3" transform="rotate(45 240.3 314.3)" fill="none" stroke="#6a8fb3" stroke-width="0.7"/>
<ellipse cx="251.7" cy="314.3" rx="2.25" ry="1.3" transform="rotate(60 251.7 314.3)" fill="none" stroke="#6a8fb3" stroke-width="0.7"/>
<ellipse cx="263.2" cy="320.5" rx="2.25" ry="1.3" transform="rotate(-45 263.2 320.5)" fill="none" stroke="#6a8fb3" stroke-width="0.7"/>
<ellipse cx="146.1" cy="327.1" rx="2.25" ry="1.3" transform="rotate(-45 146.1 327.1)" fill="none" stroke="#a4a4ae" stroke-width="0.65"/>
<ellipse cx="156.0" cy="324.4" rx="2.25" ry="1.3" transform="rotate(75 156.0 324.4)" fill="none" stroke="#a4a4ae" stroke-width="0.65"/>
<ellipse cx="165.4" cy="321.4" rx="2.25" ry="1.3" transform="rotate(45 165.4 321.4)" fill="none" stroke="#a4a4ae" stroke-width="0.65"/>
<ellipse cx="174.0" cy="316.8" rx="2.25" ry="1.3" transform="rotate(-30 174.0 316.8)" fill="none" stroke="#a4a4ae" stroke-width="0.65"/>
<ellipse cx="185.7" cy="313.3" rx="2.25" ry="1.3" transform="rotate(30 185.7 313.3)" fill="none" stroke="#a4a4ae" stroke-width="0.65"/>
<ellipse cx="199.4" cy="308.0" rx="2.25" ry="1.3" transform="rotate(-30 199.4 308.0)" fill="none" stroke="#a4a4ae" stroke-width="0.65"/>
<ellipse cx="203.3" cy="312.7" rx="2.25" ry="1.3" transform="rotate(60 203.3 312.7)" fill="none" stroke="#a4a4ae" stroke-width="0.65"/>
<ellipse cx="212.1" cy="303.0" rx="2.25" ry="1.3" transform="rotate(45 212.1 303.0)" fill="none" stroke="#a4a4ae" stroke-width="0.65"/>
<ellipse cx="222.9" cy="303.0" rx="2.25" ry="1.3" transform="rotate(-60 222.9 303.0)" fill="none" stroke="#a4a4ae" stroke-width="0.65"/>
<ellipse cx="232.6" cy="304.9" rx="2.25" ry="1.3" transform="rotate(-45 232.6 304.9)" fill="none" stroke="#a4a4ae" stroke-width="0.65"/>
<ellipse cx="234.0" cy="294.6" rx="2.25" ry="1.3" transform="rotate(75 234.0 294.6)" fill="none" stroke="#a4a4ae" stroke-width="0.65"/>
<ellipse cx="245.6" cy="290.8" rx="2.25" ry="1.3" transform="rotate(-75 245.6 290.8)" fill="none" stroke="#a4a4ae" stroke-width="0.65"/>
<ellipse cx="256.3" cy="286.9" rx="2.25" ry="1.3" transform="rotate(30 256.3 286.9)" fill="none" stroke="#a4a4ae" stroke-width="0.65"/>
<ellipse cx="265.5" cy="284.6" rx="2.25" ry="1.3" transform="rotate(30 265.5 284.6)" fill="none" stroke="#a4a4ae" stroke-width="0.65"/>
<ellipse cx="283.1" cy="282.3" rx="2.25" ry="1.3" transform="rotate(30 283.1 282.3)" fill="none" stroke="#a4a4ae" stroke-width="0.65"/>
<ellipse cx="286.1" cy="293.1" rx="2.25" ry="1.3" transform="rotate(-75 286.1 293.1)" fill="none" stroke="#a4a4ae" stroke-width="0.65"/>
<ellipse cx="272.3" cy="296.7" rx="2.25" ry="1.3" transform="rotate(60 272.3 296.7)" fill="none" stroke="#a4a4ae" stroke-width="0.65"/>
<ellipse cx="258.6" cy="299.0" rx="2.25" ry="1.3" transform="rotate(-75 258.6 299.0)" fill="none" stroke="#a4a4ae" stroke-width="0.65"/>
<ellipse cx="245.6" cy="300.6" rx="2.25" ry="1.3" transform="rotate(60 245.6 300.6)" fill="none" stroke="#a4a4ae" stroke-width="0.65"/>
<ellipse cx="264.3" cy="309.8" rx="2.25" ry="1.3" transform="rotate(-45 264.3 309.8)" fill="none" stroke="#a4a4ae" stroke-width="0.65"/>
<ellipse cx="275.8" cy="310.4" rx="2.25" ry="1.3" transform="rotate(-45 275.8 310.4)" fill="none" stroke="#a4a4ae" stroke-width="0.65"/>
<ellipse cx="286.8" cy="309.1" rx="2.25" ry="1.3" transform="rotate(15 286.8 309.1)" fill="none" stroke="#a4a4ae" stroke-width="0.65"/>
<ellipse cx="276.9" cy="320.0" rx="2.25" ry="1.3" transform="rotate(60 276.9 320.0)" fill="none" stroke="#a4a4ae" stroke-width="0.65"/>
<ellipse cx="294.9" cy="296.0" rx="2.25" ry="1.3" transform="rotate(-45 294.9 296.0)" fill="none" stroke="#a4a4ae" stroke-width="0.65"/>
<ellipse cx="305.2" cy="311.4" rx="2.25" ry="1.3" transform="rotate(-60 305.2 311.4)" fill="none" stroke="#a4a4ae" stroke-width="0.65"/>
<ellipse cx="289.6" cy="322.8" rx="2.25" ry="1.3" transform="rotate(15 289.6 322.8)" fill="none" stroke="#a4a4ae" stroke-width="0.65"/>
<ellipse cx="302.9" cy="321.2" rx="2.25" ry="1.3" transform="rotate(-75 302.9 321.2)" fill="none" stroke="#a4a4ae" stroke-width="0.65"/>
<ellipse cx="311.6" cy="320.0" rx="2.25" ry="1.3" transform="rotate(60 311.6 320.0)" fill="none" stroke="#a4a4ae" stroke-width="0.65"/>
<ellipse cx="305.6" cy="328.7" rx="2.25" ry="1.3" transform="rotate(15 305.6 328.7)" fill="none" stroke="#a4a4ae" stroke-width="0.65"/>
<ellipse cx="316.6" cy="329.7" rx="2.25" ry="1.3" transform="rotate(45 316.6 329.7)" fill="none" stroke="#a4a4ae" stroke-width="0.65"/>
<ellipse cx="321.2" cy="338.4" rx="2.25" ry="1.3" transform="rotate(30 321.2 338.4)" fill="none" stroke="#a4a4ae" stroke-width="0.65"/>
<ellipse cx="326.9" cy="345.7" rx="2.25" ry="1.3" transform="rotate(-60 326.9 345.7)" fill="none" stroke="#a4a4ae" stroke-width="0.65"/>
<path d="M33.70,345.30 C46.47,345.30 59.23,345.38 72.00,345.30 C74.34,345.28 76.67,345.21 79.00,345.00 C81.45,344.78 83.88,344.45 86.30,344.00 C88.22,343.64 90.11,343.10 92.00,342.60 C94.67,341.90 97.32,341.08 100.00,340.40 C103.32,339.55 106.66,338.78 110.00,338.00 C116.66,336.45 123.35,335.00 130.00,333.40 C136.68,331.80 143.32,330.01 150.00,328.40 C154.95,327.21 159.96,326.24 164.90,325.00 C173.29,322.90 181.59,320.43 190.00,318.40 C196.63,316.80 203.33,315.52 210.00,314.10 C216.66,312.68 223.30,311.12 230.00,309.90 C232.44,309.45 234.93,309.28 237.40,309.10 C239.86,308.92 242.33,308.77 244.80,308.80 C247.27,308.83 249.76,308.87 252.20,309.30 C254.73,309.74 257.22,310.45 259.60,311.40 C262.18,312.43 264.62,313.77 267.00,315.20 C268.30,315.98 269.44,317.02 270.60,318.00 C272.91,319.95 275.26,321.86 277.40,324.00 C279.27,325.87 281.08,327.83 282.60,330.00 C284.13,332.19 285.32,334.60 286.50,337.00 C287.79,339.61 288.93,342.29 290.00,345.00 C290.97,347.46 291.97,349.93 292.60,352.50 C293.18,354.89 293.27,357.37 293.60,359.80" fill="none" stroke="#1212b8" stroke-width="1.7"/>
<path d="M69.50,359.80 C70.77,358.45 72.03,357.10 73.30,355.75 C74.57,354.40 75.80,353.02 77.10,351.70 C78.37,350.40 79.64,349.10 81.00,347.90 C82.11,346.93 83.25,345.98 84.50,345.20 C85.60,344.51 86.80,344.00 88.00,343.50 C89.31,342.96 90.66,342.55 92.00,342.10 C94.66,341.21 97.33,340.36 100.00,339.50 C103.33,338.43 106.66,337.36 110.00,336.30 C116.66,334.19 123.38,332.24 130.00,330.00 C136.71,327.73 143.33,325.20 150.00,322.80 C156.67,320.40 163.33,317.99 170.00,315.60 C176.66,313.22 183.40,311.04 190.00,308.50 C196.74,305.91 203.33,302.95 210.00,300.20 C216.66,297.45 223.34,294.76 230.00,292.00 C234.11,290.29 238.16,288.43 242.30,286.80 C246.39,285.19 250.52,283.68 254.70,282.30 C257.10,281.51 259.55,280.89 262.00,280.30 C263.98,279.82 265.98,279.39 268.00,279.10 C270.55,278.73 273.12,278.46 275.70,278.30 C277.43,278.19 279.18,278.10 280.90,278.30 C282.63,278.50 284.41,278.78 286.00,279.50 C287.86,280.34 289.65,281.46 291.10,282.90 C293.13,284.91 294.71,287.33 296.30,289.70 C298.15,292.47 299.66,295.46 301.40,298.30 C302.89,300.73 304.46,303.10 306.00,305.50 C309.33,310.67 312.85,315.72 316.00,321.00 C319.52,326.89 322.71,332.97 326.00,339.00 C328.71,343.97 331.39,348.97 334.00,354.00 C334.99,355.91 335.87,357.87 336.80,359.80" fill="none" stroke="#c4602a" stroke-width="1.3"/>
<rect x="34.30" y="258.20" width="315.00" height="101.70" fill="none" stroke="#1a1a1a" stroke-width="1.0"/>
<path d="M34.00,359.90v-3.50M34.00,258.20v3.50M40.06,359.90v-2.00M40.06,258.20v2.00M46.13,359.90v-2.00M46.13,258.20v2.00M52.19,359.90v-2.00M52.19,258.20v2.00M58.25,359.90v-2.00M58.25,258.20v2.00M64.32,359.90v-2.00M64.32,258.20v2.00M70.38,359.90v-2.00M70.38,258.20v2.00M76.44,359.90v-2.00M76.44,258.20v2.00M82.51,359.90v-2.00M82.51,258.20v2.00M88.57,359.90v-2.00M88.57,258.20v2.00M94.63,359.90v-3.50M94.63,258.20v3.50M100.70,359.90v-2.00M100.70,258.20v2.00M106.76,359.90v-2.00M106.76,258.20v2.00M112.83,359.90v-2.00M112.83,258.20v2.00M118.89,359.90v-2.00M118.89,258.20v2.00M124.95,359.90v-2.00M124.95,258.20v2.00M131.02,359.90v-2.00M131.02,258.20v2.00M137.08,359.90v-2.00M137.08,258.20v2.00M143.14,359.90v-2.00M143.14,258.20v2.00M149.21,359.90v-2.00M149.21,258.20v2.00M155.27,359.90v-3.50M155.27,258.20v3.50M161.33,359.90v-2.00M161.33,258.20v2.00M167.40,359.90v-2.00M167.40,258.20v2.00M173.46,359.90v-2.00M173.46,258.20v2.00M179.52,359.90v-2.00M179.52,258.20v2.00M185.59,359.90v-2.00M185.59,258.20v2.00M191.65,359.90v-2.00M191.65,258.20v2.00M197.71,359.90v-2.00M197.71,258.20v2.00M203.78,359.90v-2.00M203.78,258.20v2.00M209.84,359.90v-2.00M209.84,258.20v2.00M215.90,359.90v-3.50M215.90,258.20v3.50M221.97,359.90v-2.00M221.97,258.20v2.00M228.03,359.90v-2.00M228.03,258.20v2.00M234.09,359.90v-2.00M234.09,258.20v2.00M240.16,359.90v-2.00M240.16,258.20v2.00M246.22,359.90v-2.00M246.22,258.20v2.00M252.28,359.90v-2.00M252.28,258.20v2.00M258.35,359.90v-2.00M258.35,258.20v2.00M264.41,359.90v-2.00M264.41,258.20v2.00M270.48,359.90v-2.00M270.48,258.20v2.00M276.54,359.90v-3.50M276.54,258.20v3.50M282.60,359.90v-2.00M282.60,258.20v2.00M288.67,359.90v-2.00M288.67,258.20v2.00M294.73,359.90v-2.00M294.73,258.20v2.00M300.79,359.90v-2.00M300.79,258.20v2.00M306.86,359.90v-2.00M306.86,258.20v2.00M312.92,359.90v-2.00M312.92,258.20v2.00M318.98,359.90v-2.00M318.98,258.20v2.00M325.05,359.90v-2.00M325.05,258.20v2.00M331.11,359.90v-2.00M331.11,258.20v2.00M337.17,359.90v-3.50M337.17,258.20v3.50M343.24,359.90v-2.00M343.24,258.20v2.00M349.30,359.90v-2.00M349.30,258.20v2.00M34.30,359.90h3.50M349.30,359.90h-3.50M34.30,356.99h2.00M349.30,356.99h-2.00M34.30,354.09h2.00M349.30,354.09h-2.00M34.30,351.18h2.00M349.30,351.18h-2.00M34.30,348.28h2.00M349.30,348.28h-2.00M34.30,345.37h2.00M349.30,345.37h-2.00M34.30,342.47h2.00M349.30,342.47h-2.00M34.30,339.56h2.00M349.30,339.56h-2.00M34.30,336.65h2.00M349.30,336.65h-2.00M34.30,333.75h2.00M349.30,333.75h-2.00M34.30,330.84h3.50M349.30,330.84h-3.50M34.30,327.94h2.00M349.30,327.94h-2.00M34.30,325.03h2.00M349.30,325.03h-2.00M34.30,322.13h2.00M349.30,322.13h-2.00M34.30,319.22h2.00M349.30,319.22h-2.00M34.30,316.31h2.00M349.30,316.31h-2.00M34.30,313.41h2.00M349.30,313.41h-2.00M34.30,310.50h2.00M349.30,310.50h-2.00M34.30,307.60h2.00M349.30,307.60h-2.00M34.30,304.69h2.00M349.30,304.69h-2.00M34.30,301.79h3.50M349.30,301.79h-3.50M34.30,298.88h2.00M349.30,298.88h-2.00M34.30,295.97h2.00M349.30,295.97h-2.00M34.30,293.07h2.00M349.30,293.07h-2.00M34.30,290.16h2.00M349.30,290.16h-2.00M34.30,287.26h2.00M349.30,287.26h-2.00M34.30,284.35h2.00M349.30,284.35h-2.00M34.30,281.45h2.00M349.30,281.45h-2.00M34.30,278.54h2.00M349.30,278.54h-2.00M34.30,275.63h2.00M349.30,275.63h-2.00M34.30,272.73h3.50M349.30,272.73h-3.50M34.30,269.82h2.00M349.30,269.82h-2.00M34.30,266.92h2.00M349.30,266.92h-2.00M34.30,264.01h2.00M349.30,264.01h-2.00M34.30,261.11h2.00M349.30,261.11h-2.00M34.30,258.20h2.00M349.30,258.20h-2.00" stroke="#1a1a1a" stroke-width="1.0" fill="none"/>
<text x="32.50" y="372.10" font-size="9.5" text-anchor="middle" fill="#111">−250</text>
<text x="93.13" y="372.10" font-size="9.5" text-anchor="middle" fill="#111">−200</text>
<text x="153.77" y="372.10" font-size="9.5" text-anchor="middle" fill="#111">−150</text>
<text x="214.40" y="372.10" font-size="9.5" text-anchor="middle" fill="#111">−100</text>
<text x="275.04" y="372.10" font-size="9.5" text-anchor="middle" fill="#111">−50</text>
<text x="337.17" y="372.10" font-size="9.5" text-anchor="middle" fill="#111">0</text>
<text x="31.00" y="363.30" font-size="9.5" text-anchor="end" fill="#111">0</text>
<text x="31.00" y="334.24" font-size="9.5" text-anchor="end" fill="#111">5</text>
<text x="31.00" y="305.19" font-size="9.5" text-anchor="end" fill="#111">10</text>
<text x="31.00" y="276.13" font-size="9.5" text-anchor="end" fill="#111">15</text>
<text x="-0.6" y="312.99" font-size="11.4" font-style="italic" fill="#1a1a1a">h<tspan dx="1.4">/</tspan><tspan dx="1.1">d</tspan></text>
<text x="1.5" y="264.60" font-size="11" fill="#222">(<tspan font-style="italic">c</tspan>)</text>
<text x="183.2" y="386.6" font-size="12" font-style="italic" fill="#1a1a1a">ξ<tspan dx="1.2">/</tspan><tspan dx="1.0">d</tspan></text>
</svg></body></html>
